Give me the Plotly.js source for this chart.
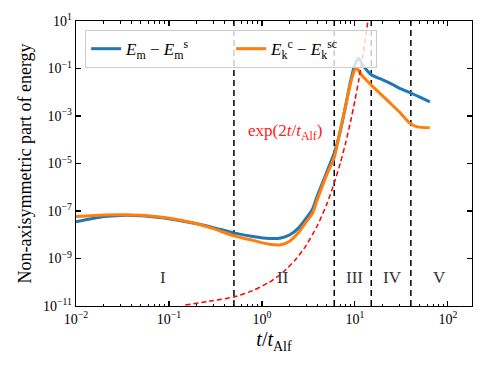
<!DOCTYPE html>
<html>
<head>
<meta charset="utf-8">
<script src="https://cdn.plot.ly/plotly-3.0.1.min.js"></script>
<style>
  html, body { margin: 0; padding: 0; background: #fff; }
  #chart { width: 488px; height: 366px; }
</style>
</head>
<body>
<div id="chart"></div>
<script>
// ---- data ----
// magnetic part  E_m - E_m^s
const tMag = [0.01, 0.015, 0.02, 0.03, 0.05, 0.08, 0.12, 0.2, 0.3, 0.5, 0.8, 1.2, 1.6, 2.0, 2.5, 3.0, 3.5,
              4, 5, 6, 7, 8, 9, 10, 11, 12, 13, 15, 20, 25, 30, 40, 50, 64];
const eMag = [3.5e-8, 4.8e-8, 5.8e-8, 6.5e-8, 6.3e-8, 5.3e-8, 4.2e-8, 2.9e-8, 2.0e-8, 1.2e-8, 8.5e-9, 7.0e-9, 7.3e-9, 1.0e-8, 2.0e-8, 5.0e-8, 1.2e-7,
              5e-7, 4.5e-6, 2.8e-5, 2.5e-4, 3e-3, 3e-2, 0.15, 0.27, 0.15, 0.1, 0.055, 0.033, 0.022, 0.015, 0.0093, 0.0062, 0.0039];
// kinetic part  E_k^c - E_k^sc
const tKin = [0.01, 0.02, 0.03, 0.05, 0.08, 0.12, 0.2, 0.3, 0.5, 0.8, 1.2, 1.6, 2.0, 2.5, 3.0, 3.5,
              4, 5, 6, 7, 8, 9, 10, 10.5, 11.5, 13, 15, 18.6, 24, 30, 39, 47, 64];
const eKin = [5.8e-8, 6.8e-8, 7.0e-8, 6.6e-8, 5.6e-8, 4.4e-8, 2.9e-8, 1.8e-8, 9.0e-9, 5.8e-9, 4.0e-9, 3.8e-9, 5.5e-9, 1.3e-8, 3.5e-8, 8.0e-8,
              3.5e-7, 3.5e-6, 1.8e-5, 2.8e-4, 3e-3, 2.5e-2, 0.09, 0.105, 0.06, 0.035, 0.02, 0.009, 0.0035, 0.0015, 5e-4, 3.5e-4, 3.2e-4];
// reference growth curve exp(2t/t_Alf)
const tGrowth = [0.15, 0.3, 0.5, 0.8, 1.2, 1.7, 2.3, 3, 4, 5, 6, 7, 8, 9, 10, 11, 12, 13, 13.8];
const eGrowth = [1.1e-11, 1.7e-11, 2.4e-11, 4.5e-11, 1.0e-10, 2.7e-10, 9e-10, 3.6e-9, 2.7e-8, 2e-7, 1.5e-6, 1.1e-5, 8e-5, 6e-4, 4.4e-3, 3.2e-2, 0.24, 1.8, 10];
// phase boundaries and labels
const phaseBounds = [0.5, 6, 15, 40];
const phaseNames = ['I', 'II', 'III', 'IV', 'V'];
const phaseNameT = [0.086, 1.68, 10, 25.7, 82];
// tick labels
const xTickVals = [0.01, 0.1, 1, 10, 100];
const xTickText = ['10<sup>−2</sup>', '10<sup>−1</sup>', '10<sup>0</sup>', '10<sup>1</sup>', '10<sup>2</sup>'];
const yTickVals = [1e-11, 1e-9, 1e-7, 1e-5, 1e-3, 1e-1, 10];
const yTickText = ['10<sup>−11</sup>', '10<sup>−9</sup>', '10<sup>−7</sup>', '10<sup>−5</sup>', '10<sup>−3</sup>', '10<sup>−1</sup>', '10<sup>1</sup>'];

const serif = '"Liberation Serif", "DejaVu Serif", serif';
const yLow = 1e-11, yHigh = 10;

let traces = [];

// vertical dashed phase boundaries
phaseBounds.forEach(b => {
    traces.push({
        x: [b, b], y: [yLow, yHigh],
        mode: 'lines', type: 'scatter', showlegend: false, hoverinfo: 'skip',
        line: { color: 'black', width: 1.5, dash: '6px,4px' }
    });
});

traces.push({
    x: tMag, y: eMag, name: '<i>E</i><sub>m</sub> − <i>E</i><sub>m</sub><sup>s</sup>',
    mode: 'lines', type: 'scatter', line: { color: '#1f77b4', width: 3, shape: 'spline', smoothing: 0.6 }
});
traces.push({
    x: tKin, y: eKin, name: '<i>E</i><sub>k</sub><sup>c</sup> − <i>E</i><sub>k</sub><sup>sc</sup>',
    mode: 'lines', type: 'scatter', line: { color: '#ff7f0e', width: 3, shape: 'spline', smoothing: 0.6 }
});
traces.push({
    x: tGrowth, y: eGrowth, showlegend: false,
    mode: 'lines', type: 'scatter', line: { color: '#ff0000', width: 1.5, dash: '5px,3px', shape: 'spline', smoothing: 0.6 }
});

let annotations = phaseNames.map((n, i) => ({
    x: Math.log10(phaseNameT[i]), y: Math.log10(1.65e-10), xref: 'x', yref: 'y',
    text: n, showarrow: false, font: { family: serif, size: 17, color: '#333' }
}));
annotations.push({
    x: Math.log10(1.77), y: -3.67, xref: 'x', yref: 'y',
    text: 'exp(2<i>t</i>/<i>t</i><sub>Alf</sub>)', showarrow: false,
    font: { family: serif, size: 17, color: '#ff2020' }
});

const axisCommon = {
    type: 'log', showgrid: false, zeroline: false,
    showline: true, linecolor: 'black', linewidth: 1.2, mirror: 'allticks',
    ticks: 'inside', ticklen: 5, tickwidth: 1.2, tickcolor: 'black',
    tickmode: 'array', tickfont: { family: serif, size: 14, color: 'black' }
};

let layout = {
    width: 488, height: 366,
    margin: { l: 76, r: 16, t: 21, b: 60 },
    paper_bgcolor: 'white', plot_bgcolor: 'white',
    font: { family: serif, color: 'black' },
    xaxis: Object.assign({}, axisCommon, {
        range: [-2, 2.26], tickvals: xTickVals, ticktext: xTickText,
        minor: { ticks: 'inside', ticklen: 2.5, tickwidth: 1, tickcolor: 'black', showgrid: false, dtick: 'D1' },
        title: { text: '<i>t</i>/<i>t</i><sub>Alf</sub>', font: { family: serif, size: 20 }, standoff: 6 }
    }),
    yaxis: Object.assign({}, axisCommon, {
        range: [-11, 1], tickvals: yTickVals, ticktext: yTickText,
        title: { text: 'Non-axisymmetric part of energy', font: { family: serif, size: 18 }, standoff: 6 }
    }),
    legend: {
        orientation: 'h', x: 0.023, y: 0.968, xanchor: 'left', yanchor: 'top',
        bgcolor: 'rgba(255,255,255,0.8)', bordercolor: '#cccccc', borderwidth: 1,
        font: { family: serif, size: 17 }, entrywidth: 100, tracegroupgap: 0
    },
    annotations: annotations,
    showlegend: true
};

Plotly.newPlot('chart', traces, layout, { staticPlot: true, displayModeBar: false });
</script>
</body>
</html>
